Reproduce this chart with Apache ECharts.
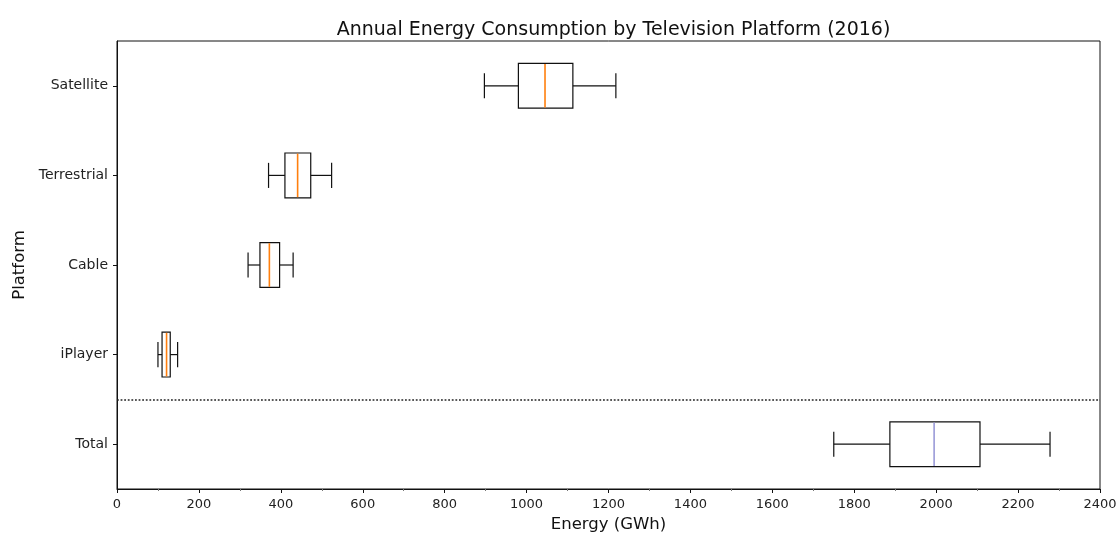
<!DOCTYPE html>
<html>
<head>
<meta charset="utf-8">
<script src="https://cdn.jsdelivr.net/npm/echarts@6/dist/echarts.min.js"></script>
<style>
  html, body { margin: 0; padding: 0; background: #fff; }
  #chart { width: 1119px; height: 534px; }
</style>
</head>
<body>
<div id="chart"></div>
<script>
// ---- Data (bottom to top) ----
const categories = ['Total', 'iPlayer', 'Cable', 'Terrestrial', 'Satellite'];
const minValues    = [1750, 100, 320, 370, 897];
const q1Values     = [1887, 110, 349, 410, 980];
const medianValues = [1995, 121, 372, 441, 1045];
const q3Values     = [2107, 130, 397, 473, 1113];
const maxValues    = [2278, 148, 430, 524, 1218];
const xTickStep = 200;
const xMin = 0;
const xMax = 2400;
// separator drawn between 'Total' and the individual platforms
const separatorBoundary = 1;

const MEDIAN_COLOR = '#ff7f0e';
const TOTAL_MEDIAN_COLOR = '#9a9ad8';
const FONT = 'DejaVu Sans';

const boxData = categories.map((c, i) => [i, minValues[i], q1Values[i], medianValues[i], q3Values[i], maxValues[i]]);

function renderItem(params, api) {
  const ci = api.value(0);
  const y = api.coord([0, ci])[1];
  const band = api.size([0, 1])[1];
  const half = band * 0.25;
  const cap = band * 0.14;
  const px = v => api.coord([v, ci])[0];
  const xmin = px(api.value(1)), xq1 = px(api.value(2)), xmed = px(api.value(3)),
        xq3 = px(api.value(4)), xmax = px(api.value(5));
  const stroke = { stroke: '#111', lineWidth: 1.2, fill: null };
  const medColor = categories[ci] === 'Total' ? TOTAL_MEDIAN_COLOR : MEDIAN_COLOR;
  return {
    type: 'group',
    children: [
      { type: 'line', shape: { x1: xmin, y1: y, x2: xq1, y2: y }, style: stroke },
      { type: 'line', shape: { x1: xq3, y1: y, x2: xmax, y2: y }, style: stroke },
      { type: 'line', shape: { x1: xmin, y1: y - cap, x2: xmin, y2: y + cap }, style: stroke },
      { type: 'line', shape: { x1: xmax, y1: y - cap, x2: xmax, y2: y + cap }, style: stroke },
      { type: 'rect', shape: { x: xq1, y: y - half, width: xq3 - xq1, height: 2 * half }, style: { stroke: '#111', lineWidth: 1.2, fill: 'rgba(0,0,0,0)' } },
      { type: 'line', shape: { x1: xmed, y1: y - half + 0.6, x2: xmed, y2: y + half - 0.6 }, style: { stroke: medColor, lineWidth: 1.6 } }
    ]
  };
}

const chart = echarts.init(document.getElementById('chart'), null, { renderer: 'canvas' });
chart.setOption({
  animation: false,
  backgroundColor: '#fff',
  title: {
    text: 'Annual Energy Consumption by Television Platform (2016)',
    left: 608.5, top: 16, textAlign: 'center',
    textStyle: { fontFamily: FONT, fontSize: 19, fontWeight: 'normal', color: '#111' }
  },
  grid: {
    left: 117, right: 19, top: 41, bottom: 45,
    containLabel: false, outerBoundsMode: 'none',
    show: true, borderColor: '#111', borderWidth: 1, backgroundColor: 'transparent'
  },
  xAxis: {
    type: 'value', min: xMin, max: xMax, interval: xTickStep,
    name: 'Energy (GWh)', nameLocation: 'middle', nameGap: 24,
    nameTextStyle: { fontFamily: FONT, fontSize: 16.5, color: '#111' },
    axisLine: { show: true, lineStyle: { color: '#111', width: 1 } },
    axisTick: { show: true, length: 4, lineStyle: { color: '#111' } },
    minorTick: { show: true, splitNumber: 2, length: 2, lineStyle: { color: '#777' } },
    axisLabel: { fontFamily: FONT, fontSize: 13, color: '#222', margin: 9, formatter: v => String(v) },
    splitLine: { show: false }
  },
  yAxis: [
    {
      type: 'category', data: categories, boundaryGap: true,
      name: 'Platform', nameLocation: 'middle', nameGap: 88, nameRotate: 90,
      nameTextStyle: { fontFamily: FONT, fontSize: 16.5, color: '#111' },
      axisLine: { show: true, lineStyle: { color: '#111', width: 1 } },
      axisTick: { show: true, length: 4, alignWithLabel: true, lineStyle: { color: '#111' } },
      axisLabel: { fontFamily: FONT, fontSize: 14, color: '#222', margin: 9 },
      splitLine: { show: false }
    },
    {
      type: 'value', min: 0, max: categories.length, show: false,
      axisLine: { show: false }, splitLine: { show: false }
    }
  ],
  series: [
    {
      type: 'custom',
      name: 'boxes',
      renderItem: renderItem,
      encode: { x: [1, 2, 3, 4, 5], y: 0 },
      data: boxData,
      yAxisIndex: 0,
      z: 5
    },
    {
      type: 'line',
      name: 'separator',
      yAxisIndex: 1,
      data: [],
      markLine: {
        silent: true,
        symbol: 'none',
        label: { show: false },
        lineStyle: { type: [1.8, 1.8], color: '#222', width: 1.6 },
        data: [{ yAxis: separatorBoundary }]
      }
    }
  ]
});
</script>
</body>
</html>
